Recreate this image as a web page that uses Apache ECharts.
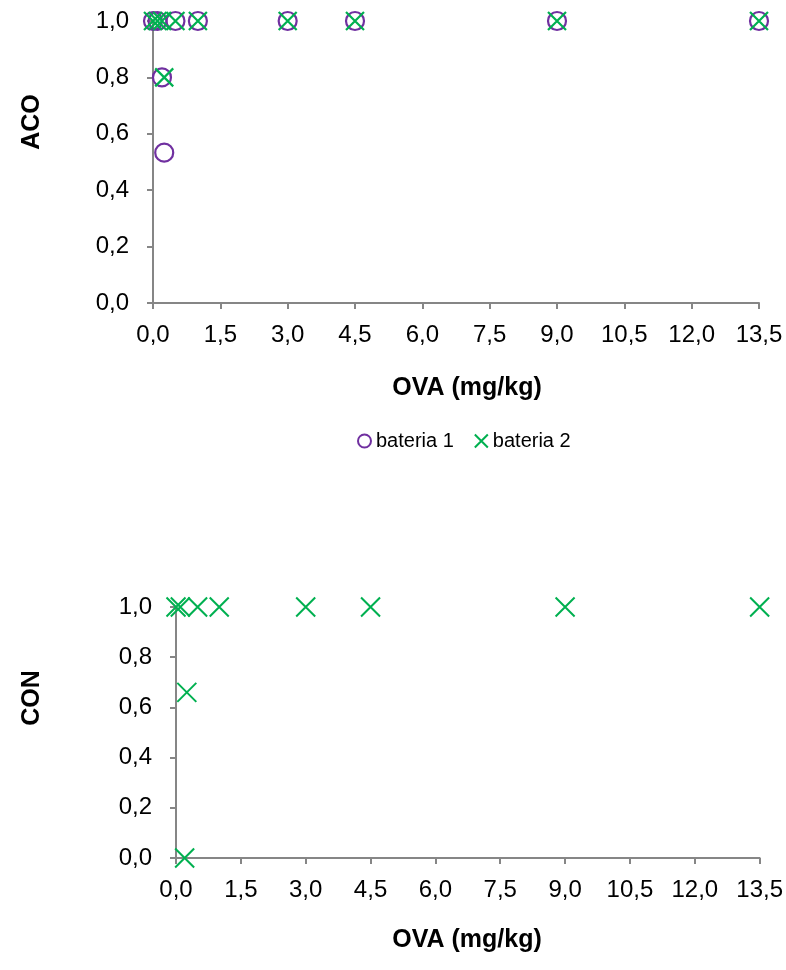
<!DOCTYPE html>
<html>
<head>
<meta charset="utf-8">
<script src="https://cdn.jsdelivr.net/npm/echarts@6/dist/echarts.min.js"></script>
<style>
html,body{margin:0;padding:0;background:#fff;}
#chart{width:786px;height:970px;}
</style>
</head>
<body>
<div id="chart"></div>
<script>
// Top chart (ACO)
const acoBat1X = [0, 0.1, 0.2, 0.25, 0.5, 1, 3, 4.5, 9, 13.5];
const acoBat1Y = [1, 1, 0.8, 0.533, 1, 1, 1, 1, 1, 1];
const acoBat2X = [0, 0.1, 0.2, 0.25, 0.5, 1, 3, 4.5, 9, 13.5];
const acoBat2Y = [1, 1, 1, 0.8, 1, 1, 1, 1, 1, 1];
// Bottom chart (CON)
const conBat2X = [0, 0.1, 0.2, 0.25, 0.5, 1, 3, 4.5, 9, 13.5];
const conBat2Y = [1, 1, 0, 0.66, 1, 1, 1, 1, 1, 1];

const xTicks = [0, 1.5, 3, 4.5, 6, 7.5, 9, 10.5, 12, 13.5];
const yTicks = [0, 0.2, 0.4, 0.6, 0.8, 1.0];
const seriesNames = ['bateria 1', 'bateria 2'];
const xTitle = 'OVA (mg/kg)';
const yTitles = ['ACO', 'CON'];

const purple = '#7030A0';
const green = '#00B050';
const axisGray = '#868686';
const crossPath = 'path://M0,0L10,10M10,0L0,10';

function pairs(xs, ys){ return xs.map((x,i)=>[x, ys[i]]); }
const fmt = v => v.toFixed(1).replace('.', ',');

function xAxisCfg(gridIndex){
  return {
    type:'value', gridIndex, min:xTicks[0], max:xTicks[xTicks.length-1], interval:1.5,
    axisLine:{show:true, onZero:false, lineStyle:{color:axisGray, width:2}},
    axisTick:{show:true, length:6, lineStyle:{color:axisGray, width:2}},
    splitLine:{show:false},
    axisLabel:{formatter:fmt, color:'#000', fontSize:24, fontFamily:'Liberation Sans, Arial', margin:20},
  };
}
function yAxisCfg(gridIndex){
  return {
    type:'value', gridIndex, min:yTicks[0], max:yTicks[yTicks.length-1], interval:0.2,
    axisLine:{show:true, onZero:false, lineStyle:{color:axisGray, width:2}},
    axisTick:{show:true, length:6, lineStyle:{color:axisGray, width:2}},
    splitLine:{show:false},
    axisLabel:{formatter:fmt, color:'#000', fontSize:24, fontFamily:'Liberation Sans, Arial', margin:24},
  };
}

const titleFont = 'bold 25px "Liberation Sans", Arial';
const chart = echarts.init(document.getElementById('chart'), null, {renderer:'canvas'});
chart.setOption({
  animation:false,
  backgroundColor:'#fff',
  grid:[
    {left:153, width:606, top:21, height:282},
    {left:176, width:584, top:607, height:251}
  ],
  xAxis:[xAxisCfg(0), xAxisCfg(1)],
  yAxis:[yAxisCfg(0), yAxisCfg(1)],
  legend:{
    data:seriesNames, left:352, top:426, itemWidth:13, itemHeight:13, itemGap:20,
    textStyle:{color:'#000', fontSize:20, fontFamily:'Liberation Sans, Arial'}
  },
  graphic:[
    {type:'text', x:467, y:388, style:{text:xTitle, font:titleFont, fill:'#000', align:'center', verticalAlign:'middle'}},
    {type:'text', x:467, y:940, style:{text:xTitle, font:titleFont, fill:'#000', align:'center', verticalAlign:'middle'}},
    {type:'text', x:32, y:122, rotation:Math.PI/2, style:{text:yTitles[0], font:titleFont, fill:'#000', align:'center', verticalAlign:'middle'}},
    {type:'text', x:32, y:698, rotation:Math.PI/2, style:{text:yTitles[1], font:titleFont, fill:'#000', align:'center', verticalAlign:'middle'}}
  ],
  series:[
    {name:seriesNames[0], type:'scatter', xAxisIndex:0, yAxisIndex:0, data:pairs(acoBat1X, acoBat1Y),
     symbol:'circle', symbolSize:18,
     itemStyle:{color:'rgba(255,255,255,0)', borderColor:purple, borderWidth:2.2, opacity:1}},
    {name:seriesNames[1], type:'scatter', xAxisIndex:0, yAxisIndex:0, data:pairs(acoBat2X, acoBat2Y),
     symbol:crossPath, symbolSize:18,
     itemStyle:{color:'rgba(255,255,255,0)', borderColor:green, borderWidth:2.2, opacity:1}},
    {name:seriesNames[1], type:'scatter', xAxisIndex:1, yAxisIndex:1, data:pairs(conBat2X, conBat2Y),
     symbol:crossPath, symbolSize:19,
     itemStyle:{color:'rgba(255,255,255,0)', borderColor:green, borderWidth:2, opacity:1}}
  ]
});
</script>
</body>
</html>
